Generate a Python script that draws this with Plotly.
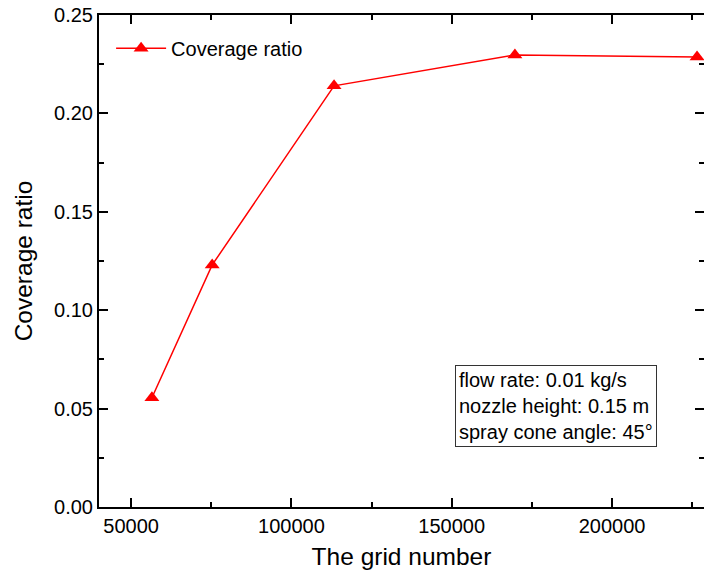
import plotly.graph_objects as go

grid_number = [56500, 75300, 113300, 169700, 226500]
coverage_ratio = [0.0555, 0.123, 0.214, 0.2297, 0.2287]
series_name = "Coverage ratio"
x_title = "The grid number"
y_title = "Coverage ratio"
note_lines = ["flow rate: 0.01 kg/s", "nozzle height: 0.15 m", "spray cone angle: 45°"]

FONT = "Liberation Sans, Arial, sans-serif"

fig = go.Figure()
fig.add_trace(go.Scatter(
    x=grid_number, y=coverage_ratio, mode="lines+markers", name=series_name,
    line=dict(color="#ff0000", width=1.5),
    marker=dict(symbol="triangle-up", size=13, color="#ff0000"),
))
# invisible trace to host right-side tick axis
fig.add_trace(go.Scatter(x=[grid_number[0]], y=[coverage_ratio[0]], yaxis="y2",
                         mode="markers", marker=dict(opacity=0), showlegend=False, hoverinfo="skip"))

fig.update_layout(
    width=704, height=585,
    margin=dict(l=99, r=0, t=15, b=78),
    paper_bgcolor="white", plot_bgcolor="white",
    font=dict(family=FONT, size=20, color="black"),
    showlegend=True,
    legend=dict(x=0.02, y=0.972, xanchor="left", yanchor="top",
                bgcolor="rgba(0,0,0,0)", font=dict(size=20), itemwidth=50),
    xaxis=dict(
        range=[40000, 228670], showgrid=False, zeroline=False,
        showline=True, linecolor="black", linewidth=2, mirror="ticks",
        ticks="inside", ticklen=9, tickwidth=2, tickcolor="black",
        tickvals=[50000, 100000, 150000, 200000],
        ticktext=["50000", "100000", "150000", "200000"],
        minor=dict(ticks="inside", ticklen=5, tickwidth=2, tickcolor="black",
                   tickvals=[75000, 125000, 175000, 225000]),
        tickfont=dict(size=20),
        title=dict(text=x_title, font=dict(size=24.5), standoff=12),
    ),
    yaxis=dict(
        range=[0, 0.25], showgrid=False, zeroline=False,
        showline=True, linecolor="black", linewidth=2, mirror=False,
        ticks="inside", ticklen=9, tickwidth=2, tickcolor="black",
        tickvals=[0, 0.05, 0.10, 0.15, 0.20, 0.25],
        ticktext=["0.00", "0.05", "0.10", "0.15", "0.20", "0.25"],
        minor=dict(ticks="inside", ticklen=5, tickwidth=2, tickcolor="black",
                   tickvals=[0.025, 0.075, 0.125, 0.175, 0.225]),
        tickfont=dict(size=20),
        title=dict(text=y_title, font=dict(size=24.5), standoff=14),
    ),
    yaxis2=dict(
        range=[0, 0.25], overlaying="y", side="right", showgrid=False, zeroline=False,
        showline=False, ticks="inside", ticklen=9, tickwidth=2, tickcolor="black",
        tickvals=[0, 0.05, 0.10, 0.15, 0.20, 0.25], showticklabels=False,
        minor=dict(ticks="inside", ticklen=5, tickwidth=2, tickcolor="black",
                   tickvals=[0.025, 0.075, 0.125, 0.175, 0.225]),
    ),
)

fig.add_annotation(
    xref="paper", yref="paper", x=0.755, y=0.205, xanchor="center", yanchor="middle",
    text="<br>".join(note_lines), align="left", showarrow=False,
    font=dict(size=20), bordercolor="#333333", borderwidth=1, borderpad=3,
    bgcolor="white",
)

fig.write_html("out.html")
